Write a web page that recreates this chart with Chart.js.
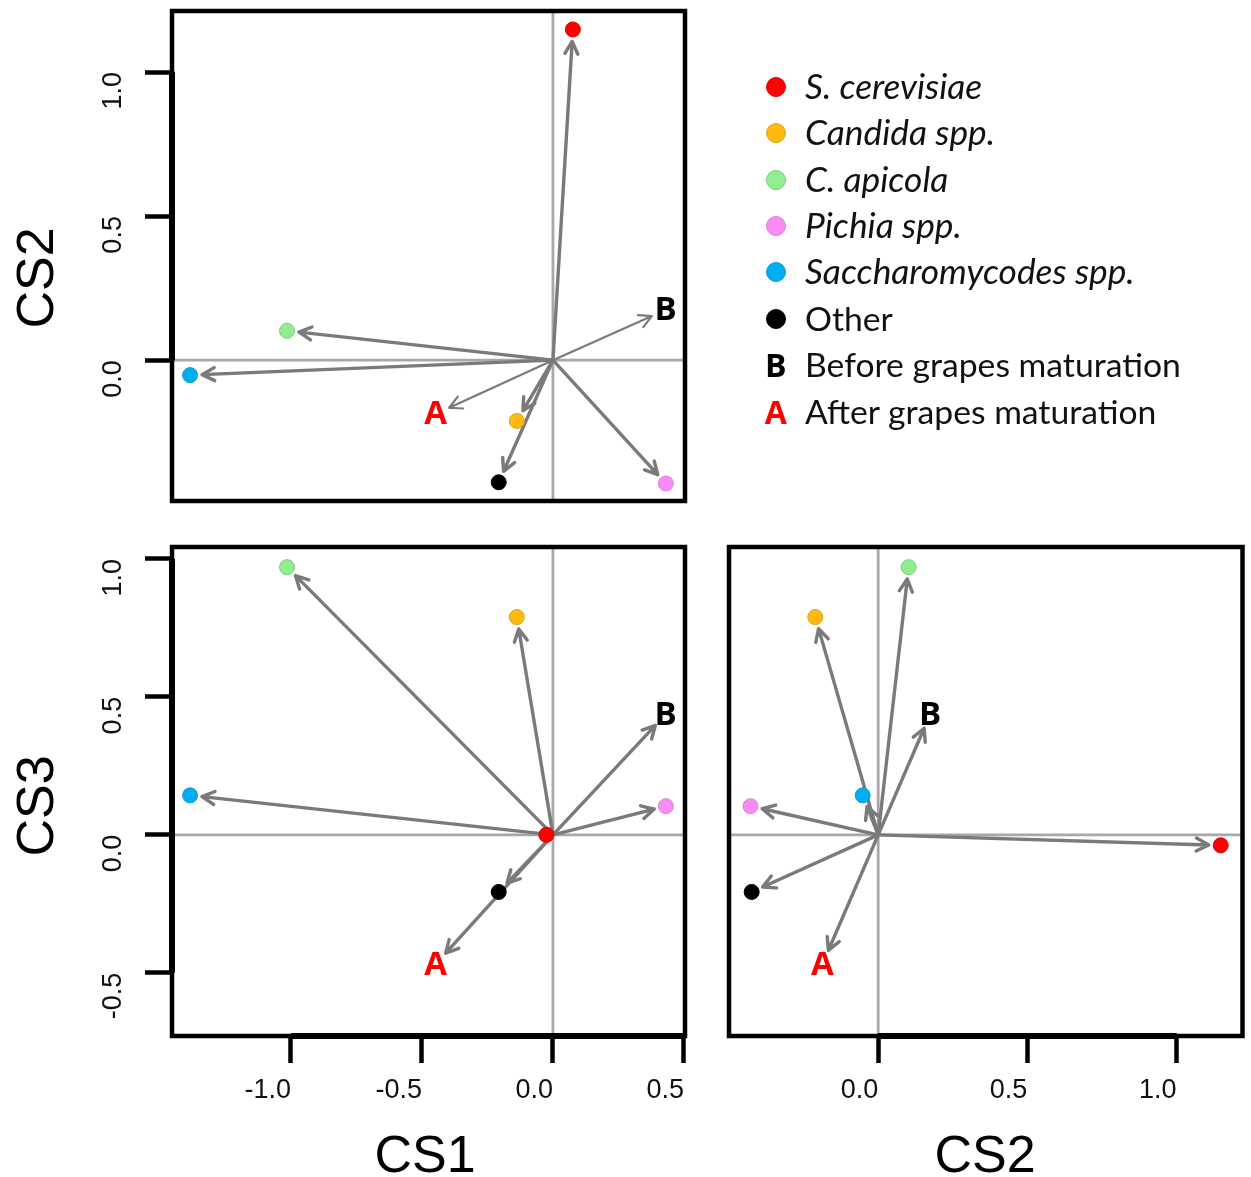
<!DOCTYPE html>
<html>
<head>
<meta charset="utf-8">
<title>Yeast groups - canonical scores</title>
<script src="https://cdn.jsdelivr.net/npm/chart.js@4.4.0/dist/chart.umd.min.js"></script>
<style>
  html, body { margin: 0; padding: 0; background: #fff; }
  #wrap { position: relative; width: 1251px; height: 1177px; overflow: hidden; }
  #wrap canvas { position: absolute; left: 0; top: 0; }
  .dot { position: absolute; width: 20px; height: 20px; border-radius: 50%; box-sizing: border-box; border: 1px solid; }
  .mark { position: absolute; width: 30px; text-align: center; font-family: "Open Sans", sans-serif; font-weight: bold; }
  .txt { position: absolute; left: 805px; white-space: nowrap; font-family: Lato, sans-serif; color: #111; }
</style>
</head>
<body>
<div id="wrap">
  <canvas id="top" width="1251" height="1177"></canvas>
  <canvas id="lowLeft" width="1251" height="1177"></canvas>
  <canvas id="lowRight" width="1251" height="1177"></canvas>
  <div id="legend"></div>
</div>
<script>
// yeast groups and their scores
const groups = ['S. cerevisiae', 'Candida spp.', 'C. apicola', 'Pichia spp.', 'Saccharomycodes spp.', 'Other'];
const italicName = [true, true, true, true, true, false];
const cs1 = [0.076, -0.138, -1.015, 0.431, -1.385, -0.207];
const cs2 = [1.148, -0.211, 0.102, -0.428, -0.052, -0.424];
const cs3 = [-0.038, 0.789, 0.970, 0.104, 0.143, -0.207];
// in the CS1/CS3 panel S. cerevisiae is drawn at the origin
const cerevisiaeCs1Cs3 = [-0.025, 0.0];

// sampling periods (B = before, A = after grapes maturation)
const periods = ['B', 'A'];
const periodNames = ['Before grapes maturation', 'After grapes maturation'];
const periodCs1 = [0.430, -0.448];
const periodCs2 = [0.174, -0.187];
const periodCs3 = [0.436, -0.469];

// tick labels
const cs1Ticks = [-1.0, -0.5, 0.0, 0.5];
const cs2Ticks = [0.0, 0.5, 1.0];
const cs3Ticks = [-0.5, 0.0, 0.5, 1.0];

// styles
const groupColors = ['#ff0000', '#ffb90f', '#90ee90', '#f88cf3', '#00aeef', '#000000'];
const groupBorders = ['#dd0000', '#dca21a', '#78cc78', '#dc80dc', '#0a9ad4', '#000000'];
const periodColors = ['#000000', '#ff0000'];

const W = 1251, H = 1177;
const tickFont = { family: 'Liberation Sans, Arial, sans-serif', size: 27 };
const arrowGrey = '#7a7a7a';

function drawArrow(ctx, x0, y0, x1, y1, gap, width) {
    var dx = x1 - x0, dy = y1 - y0;
    var len = Math.hypot(dx, dy);
    if (len < gap + 6) return;
    var ux = dx / len, uy = dy / len;
    var tx = x0 + ux * (len - gap), ty = y0 + uy * (len - gap);
    var ang = Math.atan2(uy, ux), hl = 14, ha = Math.PI / 6.5;
    ctx.strokeStyle = arrowGrey;
    ctx.lineWidth = width;
    ctx.lineCap = 'round';
    ctx.lineJoin = 'round';
    ctx.beginPath();
    ctx.moveTo(x0, y0);
    ctx.lineTo(tx, ty);
    ctx.moveTo(tx - hl * Math.cos(ang - ha), ty - hl * Math.sin(ang - ha));
    ctx.lineTo(tx, ty);
    ctx.lineTo(tx - hl * Math.cos(ang + ha), ty - hl * Math.sin(ang + ha));
    ctx.stroke();
}

// zero lines, arrows, period letters, box and axis titles
const biplot = {
    id: 'biplot',
    beforeDatasetsDraw(chart, args, opts) {
        const { ctx, chartArea: ca, scales: { x, y } } = chart;
        const x0 = x.getPixelForValue(0), y0 = y.getPixelForValue(0);
        ctx.save();
        ctx.strokeStyle = '#a8a8a8';
        ctx.lineWidth = 2.8;
        ctx.beginPath();
        ctx.moveTo(ca.left, y0); ctx.lineTo(ca.right, y0);
        ctx.moveTo(x0, ca.top); ctx.lineTo(x0, ca.bottom);
        ctx.stroke();
        chart.data.datasets.forEach(function(ds, di) {
            ds.data.forEach(function(p) {
                drawArrow(ctx, x0, y0, x.getPixelForValue(p.x), y.getPixelForValue(p.y),
                    di === 0 ? 12 : 15, di === 0 ? 3.4 : opts.periodWidth);
            });
        });
        ctx.restore();
    },
    afterDatasetsDraw(chart, args, opts) {
        const { ctx, chartArea: ca, scales: { x, y } } = chart;
        ctx.save();
        // period letters at their scores
        ctx.font = 'bold 33px "Open Sans", sans-serif';
        ctx.textAlign = 'center';
        ctx.textBaseline = 'middle';
        chart.data.datasets[1].data.forEach(function(p, i) {
            ctx.fillStyle = periodColors[i];
            ctx.fillText(periods[i], x.getPixelForValue(p.x), y.getPixelForValue(p.y) + 1);
        });
        // box
        ctx.strokeStyle = '#000';
        ctx.lineWidth = 4.5;
        ctx.lineJoin = 'miter';
        ctx.strokeRect(ca.left, ca.top, ca.right - ca.left, ca.bottom - ca.top);
        // heavier axis line between first and last tick
        ctx.lineWidth = 6;
        ctx.lineCap = 'butt';
        [x, y].forEach(function(s) {
            if (!s.options.display || !s.ticks.length) return;
            var a = s.getPixelForValue(s.ticks[0].value);
            var b = s.getPixelForValue(s.ticks[s.ticks.length - 1].value);
            ctx.beginPath();
            if (s.axis === 'x') { ctx.moveTo(a, ca.bottom); ctx.lineTo(b, ca.bottom); }
            else { ctx.moveTo(ca.left, a); ctx.lineTo(ca.left, b); }
            ctx.stroke();
        });
        // axis titles
        ctx.fillStyle = '#000';
        ctx.font = '52px Liberation Sans, Arial, sans-serif';
        ctx.textBaseline = 'alphabetic';
        (opts.titles || []).forEach(function(t) {
            ctx.save();
            ctx.translate(t.x, t.y);
            if (t.rotate) ctx.rotate(-Math.PI / 2);
            ctx.fillText(t.text, 0, 0);
            ctx.restore();
        });
        ctx.restore();
    }
};

function axisOpts(dir, min, max, ticks, size) {
    const show = !!ticks;
    return {
        type: 'linear',
        min: min,
        max: max,
        display: show,
        position: dir === 'x' ? 'bottom' : 'left',
        grid: { drawOnChartArea: false, drawTicks: true, tickLength: 27, tickWidth: 4.5, tickColor: '#000' },
        border: { display: false },
        ticks: {
            autoSkip: false,
            font: tickFont,
            color: '#111',
            padding: dir === 'x' ? 11 : 31,
            align: dir === 'x' ? 'end' : 'center',
            minRotation: dir === 'y' ? 90 : 0,
            maxRotation: dir === 'y' ? 90 : 0,
            callback: function(v) { return Number(v).toFixed(1); }
        },
        afterBuildTicks: function(s) {
            if (ticks) s.ticks = ticks.map(function(v) { return { value: v }; });
        },
        afterFit: function(s) {
            if (!show) return;
            if (dir === 'x') s.height = size; else s.width = size;
            s.paddingTop = 0; s.paddingBottom = 0; s.paddingLeft = 0; s.paddingRight = 0;
        }
    };
}

function makePanel(id, cfg) {
    const yAxisW = 110, xAxisH = 90;
    const a = cfg.area;
    const pts = cfg.x.map(function(v, i) { return { x: v, y: cfg.y[i] }; });
    const lbl = cfg.px.map(function(v, i) { return { x: v, y: cfg.py[i] }; });
    return new Chart(document.getElementById(id), {
        type: 'scatter',
        data: {
            datasets: [{
                label: 'groups',
                data: pts,
                pointRadius: 7.5,
                pointHoverRadius: 7.5,
                backgroundColor: groupColors,
                borderColor: groupBorders,
                borderWidth: 1
            }, {
                label: 'periods',
                data: lbl,
                pointRadius: 0,
                pointHoverRadius: 0
            }]
        },
        options: {
            responsive: false,
            animation: false,
            events: [],
            layout: {
                padding: {
                    left: cfg.yTicks ? a.left - yAxisW : a.left,
                    top: a.top,
                    right: W - a.right,
                    bottom: cfg.xTicks ? H - a.bottom - xAxisH : H - a.bottom
                }
            },
            plugins: {
                legend: { display: false },
                tooltip: { enabled: false },
                biplot: { periodWidth: cfg.periodWidth, titles: cfg.titles }
            },
            scales: {
                x: axisOpts('x', cfg.xMin, cfg.xMax, cfg.xTicks, xAxisH),
                y: axisOpts('y', cfg.yMin, cfg.yMax, cfg.yTicks, yAxisW)
            }
        },
        plugins: [biplot]
    });
}

// CS1 vs CS2
makePanel('top', {
    area: { left: 172, top: 11, right: 685, bottom: 501 },
    x: cs1, y: cs2, px: periodCs1, py: periodCs2,
    xMin: -1.454, xMax: 0.504, yMin: -0.489, yMax: 1.212,
    xTicks: null, yTicks: cs2Ticks, periodWidth: 2.2,
    titles: [{ text: 'CS2', x: 53, y: 278, rotate: true }]
});

// CS1 vs CS3
makePanel('lowLeft', {
    area: { left: 172, top: 547, right: 685, bottom: 1036 },
    x: cs1.map(function(v, i) { return i === 0 ? cerevisiaeCs1Cs3[0] : v; }),
    y: cs3.map(function(v, i) { return i === 0 ? cerevisiaeCs1Cs3[1] : v; }),
    px: periodCs1, py: periodCs3,
    xMin: -1.454, xMax: 0.504, yMin: -0.729, yMax: 1.043,
    xTicks: cs1Ticks, yTicks: cs3Ticks, periodWidth: 3.4,
    titles: [{ text: 'CS3', x: 53, y: 806, rotate: true }, { text: 'CS1', x: 425, y: 1172 }]
});

// CS2 vs CS3
makePanel('lowRight', {
    area: { left: 729, top: 547, right: 1245, bottom: 1036 },
    x: cs2, y: cs3, px: periodCs2, py: periodCs3,
    xMin: -0.50, xMax: 1.221, yMin: -0.729, yMax: 1.043,
    xTicks: cs2Ticks, yTicks: null, periodWidth: 3.4,
    titles: [{ text: 'CS2', x: 985, y: 1172 }]
});

// legend; upright and italic names are sized to span the same widths as in the figure
(function buildLegend() {
    const box = document.getElementById('legend');
    const probe = document.createElement('canvas').getContext('2d');
    probe.font = '100px Lato, sans-serif';
    const fs = Math.round(100 * 376 / probe.measureText(periodNames[0]).width * 10) / 10;
    probe.font = 'italic 100px Lato, sans-serif';
    const fsItalic = Math.round(100 * 330 / probe.measureText(groups[4]).width * 10) / 10;
    const rowY = function(i) { return 86.7 + i * 46.43; };
    function addText(i, text, italic) {
        const t = document.createElement('div');
        t.className = 'txt';
        t.textContent = text;
        t.style.fontSize = (italic ? fsItalic : fs) + 'px';
        t.style.lineHeight = '50px';
        t.style.top = (rowY(i) - 26) + 'px';
        if (italic) t.style.fontStyle = 'italic';
        box.appendChild(t);
    }
    groups.forEach(function(g, i) {
        const d = document.createElement('div');
        d.className = 'dot';
        d.style.left = '765.7px';
        d.style.top = (rowY(i) - 10) + 'px';
        d.style.background = groupColors[i];
        d.style.borderColor = groupBorders[i];
        box.appendChild(d);
        addText(i, g, italicName[i]);
    });
    periods.forEach(function(p, k) {
        const i = groups.length + k;
        const m = document.createElement('div');
        m.className = 'mark';
        m.textContent = p;
        m.style.color = periodColors[k];
        m.style.left = '760.7px';
        m.style.fontSize = '32px';
        m.style.lineHeight = '50px';
        m.style.top = (rowY(i) - 25) + 'px';
        box.appendChild(m);
        addText(i, periodNames[k], false);
    });
})();
</script>
</body>
</html>
